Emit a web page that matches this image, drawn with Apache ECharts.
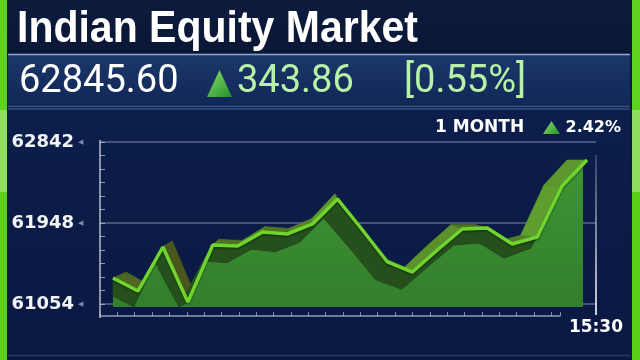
<!DOCTYPE html>
<html><head><meta charset="utf-8">
<script src="https://cdn.jsdelivr.net/npm/echarts@6/dist/echarts.min.js"></script>
<style>html,body{margin:0;padding:0;background:#0a1a40;}#c{width:640px;height:360px;}</style>
</head><body><div id="c"></div>
<script>
// ---- data ----
const titleText = 'Indian Equity Market';
const lastValue = '62845.60';
const changeValue = '343.86';
const changePct = '[0.55%]';
const periodLabel = '1 MONTH';
const periodChange = '2.42%';
const timeLabel = '15:30';
const yTicks = [61054, 61948, 62842];
const values = [61341, 61197, 61683, 61076, 61705, 61694, 61849, 61827, 61937, 62213,
                61871, 61518, 61407, 61650, 61882, 61893, 61716, 61793, 62356, 62643];

// ---- derived ----
const yBase = yTicks[0];
const yStep = yTicks[1] - yTicks[0];
const yTop = yTicks[yTicks.length - 1] - yBase;
const N = values.length;
const seriesData = values.map((v, i) => [i, v - yBase]);

// perspective offsets (pixel styling of the 3D ribbon)
function interp(keys, t) {
  for (let k = 0; k < keys.length - 1; k++) {
    const a = keys[k], b = keys[k + 1];
    if (t <= b[0]) { const u = (t - a[0]) / (b[0] - a[0]); return [a[1] + (b[1] - a[1]) * u, a[2] + (b[2] - a[2]) * u]; }
  }
  const l = keys[keys.length - 1]; return [l[1], l[2]];
}
const backKeys = [[0, 13, -6], [0.7, -10, -5], [1, -20, 0]];
const edgeKeys = [[0, 0, 18], [0.1, -8, 15], [0.47, -14, 19], [0.75, -8, 16], [0.85, -8, 14], [1, -4, 5]];
function add(p, o) { return [p[0] + o[0], p[1] + o[1]]; }
function mix(c1, c2, u) {
  const a = c1.match(/\w\w/g).map(h => parseInt(h, 16)), b = c2.match(/\w\w/g).map(h => parseInt(h, 16));
  return 'rgb(' + a.map((x, k) => Math.round(x + (b[k] - x) * u)).join(',') + ')';
}
function topColor(s) {
  if (s < 0) return mix('4f7424', '5e9e2e', Math.min(1, -s / 1.2));
  return mix('4f7424', '4a561c', Math.min(1, s / 1.2));
}

const chart = echarts.init(document.getElementById('c'), null, { renderer: 'canvas' });

function ribbon(kind, z) {
  return {
    type: 'custom', xAxisIndex: 0, yAxisIndex: 0, z: z, silent: true, clip: false,
    data: seriesData,
    renderItem: function (params, api) {
      const i = params.dataIndex;
      const base = api.coord([0, 0])[1] + 3;
      const clampP = p => [p[0], Math.min(p[1], base)];
      if (kind === 'fill') {
        if (i !== 0) return null;
        const top = [];
        for (let k = 0; k < N; k++) top.push(clampP(add(api.coord([k, values[k] - yBase]), interp(edgeKeys, k / (N - 1)))));
        const pts = top.concat([[top[N - 1][0], base], [top[0][0], base]]);
        return { type: 'polygon', shape: { points: pts },
          style: { fill: new echarts.graphic.LinearGradient(0, 0, 0, 1, [{ offset: 0, color: '#3f9433' }, { offset: 1, color: '#327f2c' }]) } };
      }
      if (i >= N - 1) return null;
      const t0 = i / (N - 1), t1 = (i + 1) / (N - 1);
      const F0 = api.coord([i, values[i] - yBase]), F1 = api.coord([i + 1, values[i + 1] - yBase]);
      if (kind === 'top') {
        const s = (F1[1] - F0[1]) / (F1[0] - F0[0]);
        const pts = [F0, F1, add(F1, interp(backKeys, t1)), add(F0, interp(backKeys, t0))];
        return { type: 'polygon', shape: { points: pts }, style: { fill: topColor(s), stroke: topColor(s), lineWidth: 0.6 } };
      }
      const pts = [F0, F1, add(F1, interp(edgeKeys, t1)), add(F0, interp(edgeKeys, t0))].map(clampP);
      return { type: 'polygon', shape: { points: pts }, style: { fill: '#25501b', stroke: '#25501b', lineWidth: 0.6 } };
    }
  };
}

const txt = (text, x, y, size, family, weight, color, align) => ({
  type: 'text', z: 100, silent: true,
  style: { text: text, x: x, y: y, fontSize: size, fontFamily: family, fontWeight: weight, fill: color, align: align || 'left', verticalAlign: 'middle' }
});
const grad = (c1, c2) => new echarts.graphic.LinearGradient(0, 0, 0, 1, [{ offset: 0, color: c1 }, { offset: 1, color: c2 }]);

const titleEl = txt(titleText, 17, 30, 41, '"Liberation Sans", Arial, sans-serif', 'bold', '#ffffff');
titleEl.scaleY = 1.1; titleEl.originX = 17; titleEl.originY = 30;

const option = {
  animation: false,
  backgroundColor: '#0a1a40',
  grid: [
    { left: 100, right: 44, top: 142, bottom: 56 },
    { left: 100, right: 80, top: 142, bottom: 44 }
  ],
  xAxis: [
    { type: 'value', gridIndex: 0, min: -0.521, max: 19.36, show: false },
    { type: 'value', gridIndex: 1, min: 0, max: 26.5, interval: 1, position: 'bottom',
      axisLine: { show: true, lineStyle: { color: 'rgba(175,185,205,0.8)', width: 1.5 } },
      axisTick: { show: true, inside: true, length: 4, lineStyle: { color: 'rgba(175,185,205,0.7)' } },
      axisLabel: { show: false }, splitLine: { show: false } }
  ],
  yAxis: [
    { type: 'value', gridIndex: 0, min: 0, max: yTop, interval: yStep,
      axisLine: { show: false, onZero: false },
      axisTick: { show: true, inside: true, length: 5, lineStyle: { color: 'rgba(175,185,205,0.8)' } },
      minorTick: { show: true, splitNumber: 6, length: 5, lineStyle: { color: 'rgba(175,185,205,0.8)' } },
      splitLine: { show: true, lineStyle: { color: 'rgba(170,180,205,0.5)', width: 1.5 } },
      axisLabel: { margin: 17, formatter: v => '{v|' + (v + yBase) + '}{a|◀}',
        rich: { v: { color: '#f2f4f8', fontSize: 18, fontWeight: 'bold', fontFamily: 'DejaVu Sans' },
                a: { color: '#7d88a6', fontSize: 7, padding: [0, 0, 0, 4] } } } },
    { type: 'value', gridIndex: 1, show: false }
  ],
  series: [
    ribbon('top', 3),
    ribbon('fill', 4),
    ribbon('edge', 5),
    { type: 'line', xAxisIndex: 0, yAxisIndex: 0, z: 6, data: seriesData, symbol: 'none', silent: true,
      lineStyle: { color: '#70d42f', width: 3.5, shadowColor: 'rgba(0,0,0,0.35)', shadowBlur: 2, shadowOffsetY: 1.5 } }
  ],
  graphic: [
    { type: 'rect', z: -10, silent: true, shape: { x: 7, y: 0, width: 625, height: 53 }, style: { fill: grad('#0d1b3d', '#0a1735') } },
    { type: 'rect', z: -10, silent: true, shape: { x: 8, y: 55, width: 622, height: 51 }, style: { fill: grad('#1b3669', '#112857') } },
    { type: 'line', z: -9, silent: true, shape: { x1: 8, y1: 54.5, x2: 630, y2: 54.5 }, style: { stroke: '#8aa6d2', lineWidth: 1.5 } },
    { type: 'line', z: -9, silent: true, shape: { x1: 8, y1: 106.5, x2: 630, y2: 106.5 }, style: { stroke: '#3b5584', lineWidth: 1.5 } },
    { type: 'rect', z: -10, silent: true, shape: { x: 8, y: 108, width: 622, height: 247 }, style: { fill: grad('#0c1e4b', '#0a1942') } },
    { type: 'line', z: -9, silent: true, shape: { x1: 8, y1: 109, x2: 630, y2: 109 }, style: { stroke: '#4c6698', lineWidth: 1 } },
    { type: 'line', z: -9, silent: true, shape: { x1: 8, y1: 355.5, x2: 630, y2: 355.5 }, style: { stroke: '#243a68', lineWidth: 1.5 } },
    { type: 'rect', z: -8, silent: true, shape: { x: 0, y: 0, width: 7, height: 110 }, style: { fill: '#5fd11f' } },
    { type: 'rect', z: -8, silent: true, shape: { x: 0, y: 110, width: 7, height: 82 }, style: { fill: '#8ede62' } },
    { type: 'rect', z: -8, silent: true, shape: { x: 0, y: 192, width: 7, height: 168 }, style: { fill: '#5ccf1b' } },
    { type: 'rect', z: -8, silent: true, shape: { x: 632, y: 0, width: 8, height: 110 }, style: { fill: '#5fd11f' } },
    { type: 'rect', z: -8, silent: true, shape: { x: 632, y: 110, width: 8, height: 82 }, style: { fill: '#8ede62' } },
    { type: 'rect', z: -8, silent: true, shape: { x: 632, y: 192, width: 8, height: 168 }, style: { fill: '#5ccf1b' } },
    { type: 'line', z: 1, silent: true, shape: { x1: 100, y1: 140, x2: 100, y2: 318 }, style: { stroke: '#b4bccc', lineWidth: 1.5 } },
    { type: 'line', z: 1, silent: true, shape: { x1: 596, y1: 155, x2: 596, y2: 315 }, style: { stroke: grad('rgba(200,208,222,0.2)', '#d0d6e2'), lineWidth: 2 } },
    titleEl,
    txt(lastValue, 19, 82, 38, 'Roboto, sans-serif', 'normal', '#ffffff'),
    { type: 'polygon', z: 100, silent: true, shape: { points: [[219.5, 70], [232, 97], [207, 97]] },
      style: { fill: new echarts.graphic.LinearGradient(0, 0, 1, 1, [{ offset: 0, color: '#8fe06a' }, { offset: 1, color: '#1f8f2a' }]) } },
    txt(changeValue, 237, 82, 38, 'Roboto, sans-serif', 'normal', '#b8f2a6'),
    txt(changePct, 404, 82, 38, 'Roboto, sans-serif', 'normal', '#b8f2a6'),
    txt(periodLabel, 435, 128, 17, '"DejaVu Sans", sans-serif', 'bold', '#ffffff'),
    { type: 'polygon', z: 100, silent: true, shape: { points: [[551.5, 121], [560, 134], [543, 134]] },
      style: { fill: new echarts.graphic.LinearGradient(0, 0, 1, 1, [{ offset: 0, color: '#8fe06a' }, { offset: 1, color: '#1f8f2a' }]) } },
    txt(periodChange, 621, 128, 16, '"DejaVu Sans", sans-serif', 'bold', '#ffffff', 'right'),
    txt(timeLabel, 623, 328, 17, '"DejaVu Sans", sans-serif', 'bold', '#ffffff', 'right')
  ]
};
chart.setOption(option);
</script>
</body></html>
